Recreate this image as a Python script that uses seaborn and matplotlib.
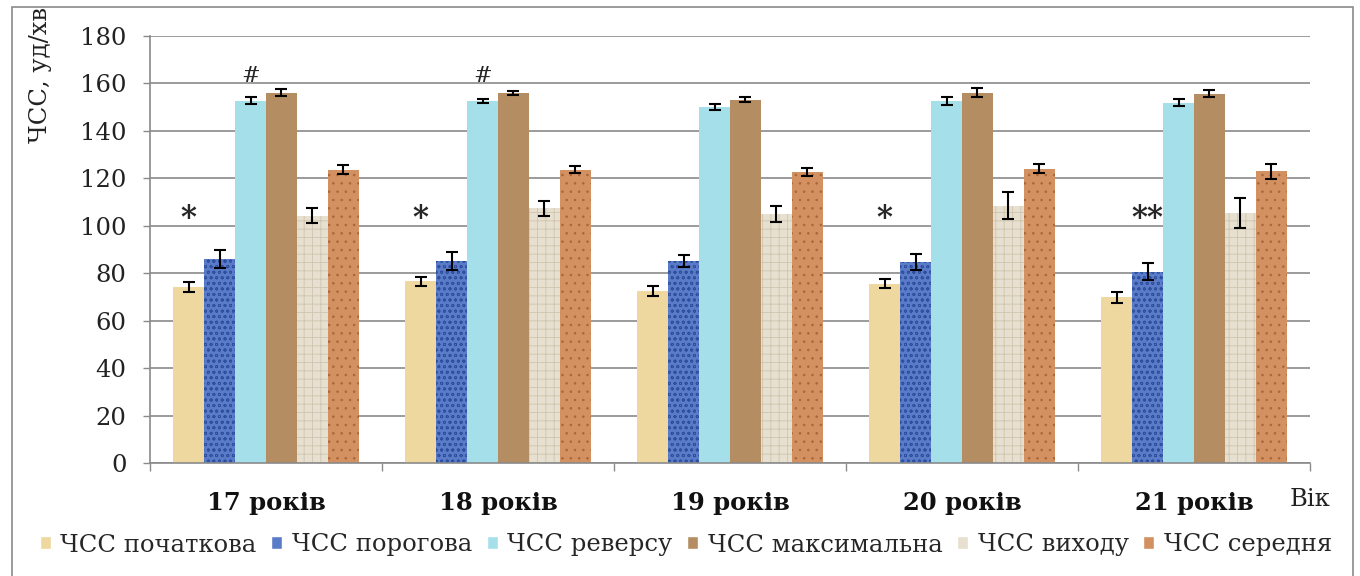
import pandas as pd
import matplotlib.pyplot as plt
import seaborn as sns
from matplotlib.patches import Rectangle

# --- Data ---
ages = ["17 років", "18 років", "19 років", "20 років", "21 років"]
series = ["ЧСС початкова", "ЧСС порогова", "ЧСС реверсу",
          "ЧСС максимальна", "ЧСС виходу", "ЧСС середня"]

hr_initial = [74.3, 76.6, 72.6, 75.6, 69.8]
hr_threshold = [86.1, 85.2, 85.0, 84.7, 80.6]
hr_reverse = [152.8, 152.5, 150.1, 152.5, 151.8]
hr_max = [156.1, 156.0, 153.1, 156.1, 155.7]
hr_exit = [104.2, 107.4, 105.0, 108.5, 105.4]
hr_mean = [123.7, 123.7, 122.6, 124.1, 123.0]

err_initial = [2.1, 2.0, 2.1, 2.0, 2.2]
err_threshold = [3.7, 3.9, 2.5, 3.2, 3.5]
err_reverse = [1.6, 0.9, 1.3, 1.6, 1.5]
err_max = [1.4, 0.9, 1.0, 2.0, 1.5]
err_exit = [3.2, 3.2, 3.3, 5.6, 6.4]
err_mean = [2.0, 1.3, 1.6, 2.0, 3.2]

# significance marks: (age index, series index, text, value where mark sits)
marks = [(0, 0, "*", 103), (1, 0, "*", 103), (3, 0, "*", 103), (4, 1, "**", 103),
         (0, 2, "#", 163), (1, 2, "#", 163)]

colors = ["#EED8A0", "#5A7CC8", "#A5E0EA", "#B48E62", "#E7DFCF", "#D39060"]
hatch_colors = ["#E2C98C", "#2E4E9E", "#8CCFDB", "#8E6A42", "#CFC4AE", "#A9663A"]
hatches = ["", "ooo", "", "", "++", ".."]

all_vals = [hr_initial, hr_threshold, hr_reverse, hr_max, hr_exit, hr_mean]
all_errs = [err_initial, err_threshold, err_reverse, err_max, err_exit, err_mean]

rows = []
for s, vals, errs in zip(series, all_vals, all_errs):
    for a, v, e in zip(ages, vals, errs):
        rows.append({"Age": a, "Series": s, "HR": v, "Err": e})
df = pd.DataFrame(rows)

# --- Plot ---
sns.set_style("white")
plt.rcParams["font.family"] = ["DejaVu Serif"]
plt.rcParams["hatch.linewidth"] = 0.6

fig = plt.figure(figsize=(13.6, 5.76), dpi=100)
ax = fig.add_axes([150 / 1360, 1 - 463 / 576, 1160 / 1360, 427 / 576])

sns.barplot(data=df, x="Age", y="HR", hue="Series", order=ages, hue_order=series,
            palette=colors, width=0.8, errorbar=None, saturation=1, ax=ax, zorder=2)

bar_conts = list(ax.containers)

# textures + error bars, per hue container
for k, cont in enumerate(bar_conts):
    for j, bar in enumerate(cont):
        bar.set_linewidth(0)
        bar.set_edgecolor(hatch_colors[k])
        bar.set_hatch(hatches[k])
        cx = bar.get_x() + bar.get_width() / 2
        ax.errorbar(cx, bar.get_height(), yerr=all_errs[k][j], color="black",
                    capsize=4.5, elinewidth=1.5, capthick=1.5, zorder=4)

for ai, si, txt, yv in marks:
    bar = bar_conts[si][ai]
    cx = bar.get_x() + bar.get_width() / 2
    if txt == "#":
        ax.text(cx, yv, txt, ha="center", va="center", fontsize=16, zorder=5)
    else:
        ax.text(cx, yv, txt, ha="center", va="center", fontsize=22,
                fontweight="bold", zorder=5)

ax.set_ylim(0, 180)
ax.set_xlim(-0.5, len(ages) - 0.5)
ax.set_yticks(range(0, 181, 20))
ax.yaxis.grid(True, color="#8a8a8a", linewidth=1.2, zorder=0)
ax.set_axisbelow(True)
ax.tick_params(axis="y", labelsize=17.5, length=5, width=1, color="#8a8a8a",
               pad=12, left=True, labelcolor="#222222")

ax.set_xticks(range(len(ages)))
ax.set_xticklabels(ages, fontsize=17.5, fontweight="bold")
ax.set_xticks([i - 0.5 for i in range(len(ages) + 1)], minor=True)
ax.tick_params(axis="x", which="major", length=0, pad=20, labelcolor="#111111")
ax.tick_params(axis="x", which="minor", length=6, width=1, color="#8a8a8a", bottom=True)

ax.set_xlabel("")
ax.set_ylabel("")
sns.despine(ax=ax, top=True, right=True)
for sp in ["left", "bottom"]:
    ax.spines[sp].set_color("#8a8a8a")
    ax.spines[sp].set_linewidth(1.2)

# axis titles placed like the original
fig.text(40 / 1360, 1 - 143 / 576, "ЧСС, уд/хв", rotation=90, ha="center",
         va="bottom", fontsize=17.5, color="#222222")
fig.text(1310 / 1360, 1 - 500 / 576, "Вік", ha="center", va="center",
         fontsize=17.5, color="#222222")

# legend along the bottom
handles, labels = ax.get_legend_handles_labels()
ax.legend_.remove()
fig.legend(handles, labels, loc="center", bbox_to_anchor=(686 / 1360, 1 - 545 / 576),
           ncol=6, frameon=False, fontsize=17.5, handlelength=0.45, handleheight=0.45,
           handletextpad=0.4, columnspacing=0.6, borderaxespad=0)

# outer frame of the chart area
fig.patches.append(Rectangle((12 / 1360, -0.05), (1353 - 12) / 1360, 1.05 - 7 / 576,
                             transform=fig.transFigure, fill=False,
                             edgecolor="#8a8a8a", linewidth=1.2))

fig.savefig("out.png", dpi=100)
